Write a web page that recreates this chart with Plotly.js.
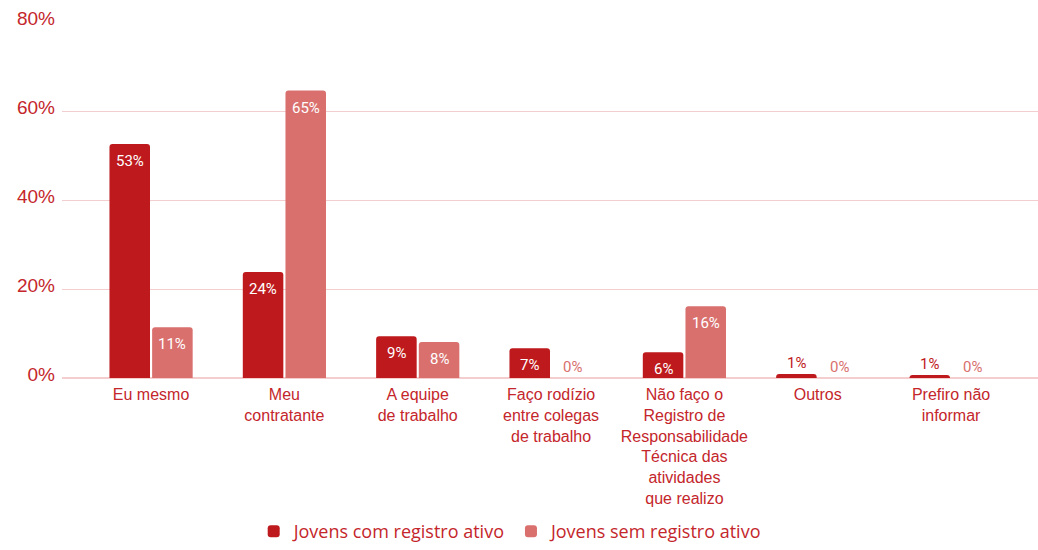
<!DOCTYPE html>
<html>
<head>
<meta charset="utf-8">
<script src="https://cdn.plot.ly/plotly-3.0.1.min.js"></script>
<style>
  html, body { margin: 0; padding: 0; background: #ffffff; }
  #chart { width: 1038px; height: 550px; }
</style>
</head>
<body>
<div id="chart"></div>
<script>
// categories (x axis)
let categories = [
    'Eu mesmo',
    'Meu<br>contratante',
    'A equipe<br>de trabalho',
    'Faço rodízio<br>entre colegas<br>de trabalho',
    'Não faço o<br>Registro de<br>Responsabilidade<br>Técnica das<br>atividades<br>que realizo',
    'Outros',
    'Prefiro não<br>informar'
];

// series values (%)
let com_registro = [52.6, 23.8, 9.4, 6.7, 5.8, 0.9, 0.7];
let sem_registro = [11.4, 64.6, 8.1, 0, 16.1, 0, 0];

// y ticks
let tick_vals = [0, 20, 40, 60, 80];
let tick_text = ['0%', '20%', '40%', '60%', '80%'];

let color_com = '#be1a1d';
let color_sem = '#d9706e';
let text_red = '#c4262b';
let bargap = 0.36;

let trace1 = {
    type: 'bar',
    name: 'Jovens com registro ativo',
    x: categories,
    y: com_registro,
    marker: {color: color_com},
    hoverinfo: 'none'
};

let trace2 = {
    type: 'bar',
    name: 'Jovens sem registro ativo',
    x: categories,
    y: sem_registro,
    marker: {color: color_sem},
    hoverinfo: 'none'
};

// value labels: inside (white, near the top) for tall bars, above for short ones
function valueLabels(values, color, side)
{
    let out = [];
    let off = side * (1 - bargap) / 4;
    for (let i = 0; i < values.length; i++)
    {
        let inside = values[i] >= 3;
        out.push({
            x: i + off,
            y: values[i],
            xref: 'x',
            yref: 'y',
            text: Math.round(values[i]) + '%',
            showarrow: false,
            yanchor: inside ? 'top' : 'bottom',
            yshift: inside ? -6 : 0,
            font: {family: 'Roboto', size: 15, color: inside ? '#ffffff' : color}
        });
    }
    return out;
}

let annotations = valueLabels(com_registro, color_com, -1)
    .concat(valueLabels(sem_registro, color_sem, 1));

let layout = {
    width: 1038,
    height: 550,
    margin: {l: 62, r: 0, t: 22, b: 172},
    paper_bgcolor: '#ffffff',
    plot_bgcolor: '#ffffff',
    barmode: 'group',
    bargap: bargap,
    bargroupgap: 0.05,
    barcornerradius: 3,
    showlegend: true,
    annotations: annotations,
    legend: {
        orientation: 'h',
        xref: 'container',
        yref: 'container',
        x: 0.492, xanchor: 'center',
        y: -0.012, yanchor: 'bottom',
        font: {family: 'Open Sans', size: 18, color: text_red},
        itemwidth: 30
    },
    xaxis: {
        type: 'category',
        range: [-0.668, 6.652],
        automargin: false,
        showgrid: false,
        zeroline: false,
        showline: false,
        ticks: '',
        tickangle: 0,
        ticklabelstandoff: 5,
        tickfont: {family: 'Liberation Sans', size: 16, color: text_red}
    },
    yaxis: {
        range: [0, 80],
        automargin: false,
        tickvals: tick_vals,
        ticktext: tick_text,
        showgrid: true,
        gridcolor: '#f4cdcf',
        gridwidth: 1,
        zeroline: true,
        zerolinecolor: '#f4cdcf',
        zerolinewidth: 2,
        showline: false,
        ticks: '',
        ticklabelstandoff: 6,
        ticklabelshift: -4,
        tickfont: {family: 'Liberation Sans', size: 19, color: text_red}
    }
};

let config = {responsive: false, displayModeBar: false, staticPlot: true};

Plotly.newPlot(document.getElementById('chart'), [trace1, trace2], layout, config);
</script>
</body>
</html>
